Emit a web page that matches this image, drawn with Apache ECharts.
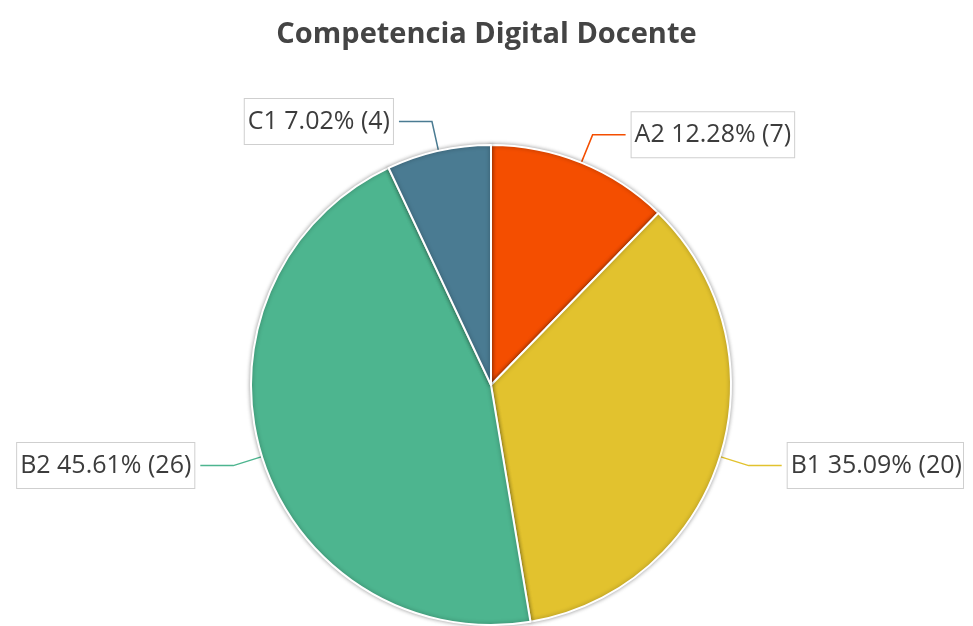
<!DOCTYPE html>
<html>
<head>
<meta charset="utf-8">
<script src="https://cdn.jsdelivr.net/npm/echarts@6/dist/echarts.min.js"></script>
<style>html,body{margin:0;padding:0;background:#fff}#c{width:973px;height:626px}</style>
</head>
<body>
<div id="c"></div>
<script>
const titleText = 'Competencia Digital Docente';
const categories = ['A2', 'B1', 'B2', 'C1'];
const values = [7, 20, 26, 4];
const colors = ['#F44E00', '#E2C22E', '#4DB58F', '#4A7B92'];

const data = categories.map((c, i) => ({ name: c, value: values[i], itemStyle: { color: colors[i] }, labelLine: { lineStyle: { color: colors[i] } } }));

const chart = echarts.init(document.getElementById('c'), null, { renderer: 'canvas' });
chart.setOption({
  animation: false,
  backgroundColor: '#fff',
  title: {
    text: titleText,
    left: 'center',
    top: 15,
    textStyle: { fontFamily: 'Open Sans', fontWeight: 'bold', fontSize: 29, color: '#444' }
  },
  series: [{
    type: 'pie',
    center: [491, 385],
    radius: 240,
    startAngle: 90,
    clockwise: true,
    data: data,
    itemStyle: { borderColor: '#fff', borderWidth: 2, shadowBlur: 4, shadowColor: 'rgba(0,0,0,0.35)' },
    label: {
      formatter: '{b} {d}% ({c})',
      fontFamily: 'Open Sans',
      fontSize: 25,
      lineHeight: 30,
      color: '#3c3c3c',
      backgroundColor: '#fff',
      borderColor: '#cfcfcf',
      borderWidth: 1,
      padding: [9, 3, 6, 3],
      overflow: 'none',
      distanceToLabelLine: 6
    },
    labelLine: { show: true, length: 30, length2: 33, smooth: false, lineStyle: { width: 1.5 } },
    emphasis: { disabled: true }
  }]
});
</script>
</body>
</html>
